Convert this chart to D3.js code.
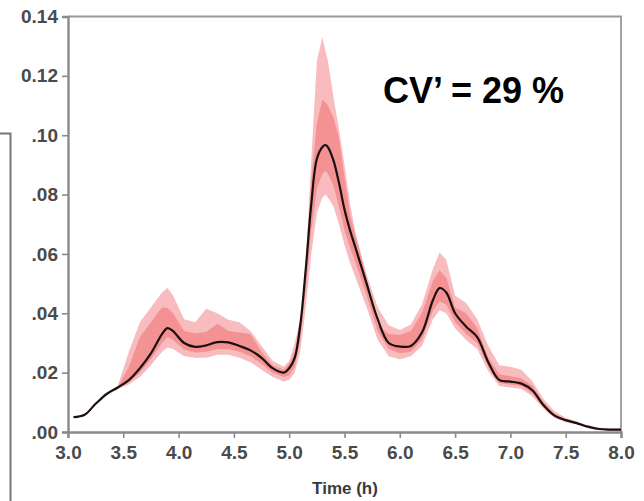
<!DOCTYPE html>
<html><head><meta charset="utf-8">
<script src="https://cdn.jsdelivr.net/npm/d3@7/dist/d3.min.js"></script>
<style>body{margin:0;background:#fff;} svg{display:block;}</style>
</head><body>
<svg id="c" width="644" height="501"></svg>
<script>
const times = [3.05,3.15,3.25,3.35,3.45,3.55,3.65,3.75,3.85,3.9,3.95,4.05,4.15,4.25,4.35,4.45,4.55,4.65,4.75,4.85,4.95,5.0,5.05,5.1,5.15,5.2,5.25,5.3,5.33,5.35,5.4,5.45,5.5,5.55,5.6,5.7,5.8,5.9,6.0,6.1,6.2,6.3,6.36,6.42,6.5,6.6,6.7,6.8,6.9,7.0,7.1,7.2,7.3,7.4,7.5,7.6,7.7,7.8,7.9,8.0];
const meanValues = [0.005,0.0058,0.0095,0.0128,0.0150,0.0175,0.0215,0.0265,0.0330,0.0350,0.0340,0.0300,0.0287,0.0292,0.0303,0.0302,0.0290,0.0275,0.0250,0.0215,0.0200,0.0215,0.0250,0.036,0.055,0.077,0.092,0.0960,0.0967,0.0960,0.0915,0.084,0.075,0.068,0.062,0.050,0.038,0.030,0.0288,0.0290,0.0335,0.0445,0.0485,0.0470,0.0400,0.0355,0.0320,0.0235,0.0175,0.0170,0.0163,0.0140,0.0090,0.0055,0.0040,0.0030,0.0018,0.0010,0.0008,0.0008];
const outerUpper = [0.0052,0.006,0.0097,0.013,0.0155,0.027,0.037,0.042,0.047,0.0485,0.046,0.038,0.037,0.0415,0.040,0.0378,0.037,0.034,0.029,0.024,0.022,0.024,0.030,0.038,0.057,0.092,0.125,0.133,0.128,0.125,0.113,0.102,0.090,0.077,0.067,0.053,0.042,0.036,0.0344,0.0362,0.043,0.055,0.0605,0.058,0.046,0.0435,0.038,0.029,0.0225,0.022,0.021,0.017,0.011,0.007,0.0048,0.0035,0.0022,0.0014,0.0012,0.0012];
const innerUpper = [0.0051,0.0059,0.0096,0.0129,0.0152,0.022,0.032,0.037,0.042,0.0418,0.040,0.034,0.0333,0.0337,0.0365,0.034,0.0335,0.033,0.027,0.0225,0.021,0.023,0.027,0.037,0.056,0.085,0.104,0.112,0.111,0.110,0.106,0.099,0.086,0.073,0.066,0.052,0.036,0.033,0.0327,0.034,0.040,0.051,0.0545,0.052,0.042,0.040,0.035,0.025,0.0195,0.0188,0.0180,0.0155,0.010,0.006,0.0044,0.0032,0.002,0.0012,0.001,0.001];
const innerLower = [0.005,0.0058,0.0095,0.0128,0.0148,0.0168,0.0200,0.0245,0.030,0.032,0.031,0.0278,0.0268,0.027,0.028,0.028,0.027,0.0255,0.023,0.020,0.0185,0.019,0.022,0.031,0.048,0.068,0.082,0.087,0.088,0.087,0.083,0.076,0.068,0.062,0.057,0.046,0.034,0.028,0.0265,0.027,0.031,0.041,0.044,0.043,0.037,0.033,0.030,0.022,0.0165,0.016,0.0155,0.013,0.0083,0.005,0.0036,0.0027,0.0015,0.0008,0.0006,0.0006];
const outerLower = [0.005,0.0058,0.0095,0.0127,0.0145,0.016,0.0185,0.0225,0.027,0.0285,0.028,0.0255,0.025,0.025,0.026,0.026,0.025,0.0235,0.021,0.0185,0.017,0.0175,0.020,0.027,0.042,0.060,0.074,0.079,0.080,0.079,0.076,0.070,0.063,0.057,0.052,0.042,0.031,0.0255,0.0245,0.0255,0.029,0.038,0.041,0.040,0.035,0.031,0.028,0.0205,0.0155,0.015,0.0145,0.012,0.0078,0.0047,0.0033,0.0025,0.0013,0.0007,0.0005,0.0005];
const xTicks = [3.0,3.5,4.0,4.5,5.0,5.5,6.0,6.5,7.0,7.5,8.0];
const xTickLabels = ["3.0","3.5","4.0","4.5","5.0","5.5","6.0","6.5","7.0","7.5","8.0"];
const yTicks = [0,0.02,0.04,0.06,0.08,0.10,0.12,0.14];
const yTickLabels = [".00",".02",".04",".06",".08",".10","0.12","0.14"];
const xTitle = "Time (h)";
const annotation = "CV\u2019 = 29 %";

const svg = d3.select("#c");
const L = 68, R = 621, T = 16.5, B = 432;
const x = d3.scaleLinear().domain([3, 8]).range([L, R]);
const y = d3.scaleLinear().domain([0, 0.14]).range([B, T]);
const data = times.map((t, i) => ({t, m: meanValues[i], ou: outerUpper[i], iu: innerUpper[i], il: innerLower[i], ol: outerLower[i]}));
const FONT = "Liberation Sans, Arial, Helvetica, sans-serif";

// left bracket fragment
svg.append("path").attr("d", `M0,133.5H10.5V501`).attr("fill","none").attr("stroke","#777").attr("stroke-width",2);

// frame top/right
svg.append("path").attr("d", `M${L},${T}H${R}V${B}`).attr("fill","none").attr("stroke","#999").attr("stroke-width",1.8);

const areaOuter = d3.area().x(d => x(d.t)).y0(d => y(d.ol)).y1(d => y(d.ou)).curve(d3.curveLinear);
const areaInner = d3.area().x(d => x(d.t)).y0(d => y(d.il)).y1(d => y(d.iu)).curve(d3.curveLinear);
svg.append("path").datum(data).attr("d", areaOuter).attr("fill", "#f8bcbf");
svg.append("path").datum(data).attr("d", areaInner).attr("fill", "#f39193");
const line = d3.line().x(d => x(d.t)).y(d => y(d.m)).curve(d3.curveCatmullRom);
svg.append("path").datum(data).attr("d", line).attr("fill","none").attr("stroke","#1a1010").attr("stroke-width",2.2);

// axes
const yMinor = d3.range(0, 0.1401, 0.02/3);
const xMinor = d3.range(3, 8.001, 0.25);
const gy = svg.append("g").attr("transform", `translate(${L},0)`);
gy.call(d3.axisLeft(y).tickValues(yMinor).tickSize(3).tickFormat(""));
gy.call(d3.axisLeft(y).tickValues(yTicks).tickSize(6).tickPadding(4).tickFormat((d,i) => yTickLabels[i]));
const gx = svg.append("g").attr("transform", `translate(0,${B})`);
gx.call(d3.axisBottom(x).tickValues(xMinor).tickSize(3).tickFormat(""));
gx.call(d3.axisBottom(x).tickValues(xTicks).tickSize(6).tickPadding(8).tickFormat((d,i) => xTickLabels[i]));
svg.selectAll(".domain").attr("stroke","#8a8a8a").attr("stroke-width",2.4);
svg.selectAll(".tick line").attr("stroke","#8a8a8a").attr("stroke-width",1.6);
svg.selectAll(".tick text").attr("fill","#4a4a4a").attr("font-family",FONT).attr("font-size",19).attr("font-weight","bold");

svg.append("text").attr("x", 345).attr("y", 494).attr("text-anchor","middle")
  .attr("font-family",FONT).attr("font-size",17).attr("font-weight","bold").attr("fill","#3a3a3a").text(xTitle);

svg.append("text").attr("x", 383).attr("y", 103).attr("font-family",FONT)
  .attr("font-size",36).attr("font-weight","bold").attr("fill","#000").text(annotation);
</script>
</body></html>
